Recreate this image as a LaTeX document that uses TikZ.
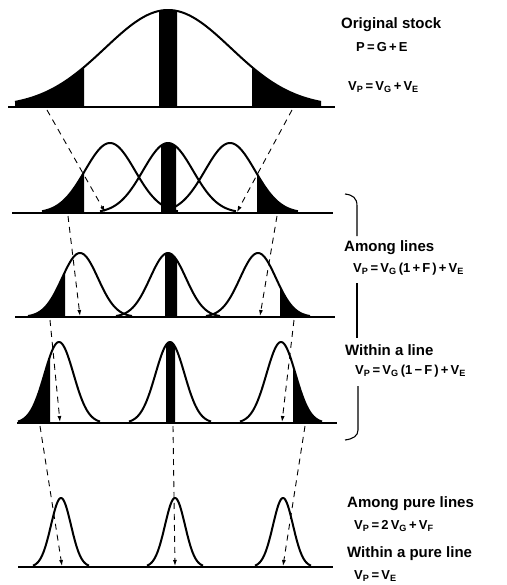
\documentclass[tikz,border=0pt]{standalone}
\usepackage{fontspec}
\setmainfont{Liberation Sans}
\usetikzlibrary{arrows.meta, positioning}

% bell curve: center, base, height, sigma, from, to
\newcommand{\bellcurve}[6]{plot[domain=#5:#6, samples=70, smooth] (\x,{#2-#3*exp(0-0.5*(((\x-#1)/#4)^2))})}
\newcommand{\bellto}[6]{-- plot[domain=#5:#6, samples=40, smooth] (\x,{#2-#3*exp(0-0.5*(((\x-#1)/#4)^2))})}
\newcommand{\sbs}[1]{\textsubscript{#1}}

\begin{document}
\begin{tikzpicture}[x=1pt, y=-1pt,
    curve/.style={line width=2pt, line join=round},
    baseln/.style={line width=2.4pt},
    sel/.style={dashed, dash pattern=on 6pt off 5pt, line width=0.9pt, -{Latex[length=6pt,width=4pt]}},
    brack/.style={line width=1.1pt},
    title/.style={anchor=west, inner sep=0pt, font=\bfseries\fontsize{15}{17}\selectfont},
    formula/.style={anchor=west, inner sep=0pt, font=\bfseries\fontsize{13}{15}\selectfont},
]
    \useasboundingbox (0,0) rectangle (506,585);

    % original stock
    \fill (15,107) \bellto{168}{107}{97}{63}{15}{84} -- (84,107) -- cycle;
    \fill (252,107) \bellto{168}{107}{97}{63}{252}{321} -- (321,107) -- cycle;
    \fill (159,107) \bellto{168}{107}{97}{63}{159}{177} -- (177,107) -- cycle;
    \draw[curve] \bellcurve{168}{107}{97}{63}{15}{321};
    \draw[baseln] (8,107) -- (335,107);

    % first selection
    \fill (42,213) \bellto{110}{213}{70}{25}{42}{84} -- (84,213) -- cycle;
    \fill (257,213) \bellto{230}{213}{70}{25}{257}{296} -- (296,213) -- cycle;
    \fill (161,213) \bellto{168}{213}{70}{25}{161}{176} -- (176,213) -- cycle;
    \foreach \c in {110,168,230}
        \draw[curve] \bellcurve{\c}{213}{70}{25}{\c-68}{\c+68};
    \draw[baseln] (12,213) -- (333,213);

    % among lines
    \fill (32,317) \bellto{80}{317}{64}{18}{32}{65} -- (65,317) -- cycle;
    \fill (280,317) \bellto{258}{317}{64}{18}{280}{313} -- (313,317) -- cycle;
    \fill (165,317) \bellto{168}{317}{64}{18}{165}{177} -- (177,317) -- cycle;
    \foreach \c in {80,168,258}
        \draw[curve] \bellcurve{\c}{317}{64}{18}{\c-52}{\c+52};
    \draw[baseln] (15,317) -- (335,317);

    % within a line
    \fill (20,423) \bellto{59}{423}{81}{14.5}{20}{50} -- (50,423) -- cycle;
    \fill (293,423) \bellto{281}{423}{81}{14.5}{293}{322} -- (322,423) -- cycle;
    \fill (166,423) \bellto{170}{423}{81}{14.5}{166}{175} -- (175,423) -- cycle;
    \foreach \c in {59,170,281}
        \draw[curve] \bellcurve{\c}{423}{81}{14.5}{\c-41}{\c+41};
    \draw[baseln] (17,423) -- (337,423);

    % pure lines
    \foreach \c in {61,175,283}
        \draw[curve] \bellcurve{\c}{567}{69}{10}{\c-28}{\c+28};
    \draw[baseln] (18,567) -- (333,567);

    % selection points
    \coordinate (s1a) at (47,110);
    \coordinate (s1b) at (292,110);
    \coordinate (e1a) at (105,212);
    \coordinate (e1b) at (237,212);
    \coordinate (s2a) at (68,216);
    \coordinate (s2b) at (277,216);
    \coordinate (e2a) at (80,316);
    \coordinate (e2b) at (260,316);
    \coordinate (s3a) at (50,320);
    \coordinate (s3b) at (294,320);
    \coordinate (e3a) at (60,422);
    \coordinate (e3b) at (282,422);
    \coordinate (s4a) at (40,426);
    \coordinate (s4b) at (173,426);
    \coordinate (s4c) at (305,426);
    \coordinate (e4a) at (62,566);
    \coordinate (e4b) at (175,566);
    \coordinate (e4c) at (283,566);

    \draw[sel] (s1a) -- (e1a);
    \draw[sel] (s1b) -- (e1b);
    \draw[sel] (s2a) -- (e2a);
    \draw[sel] (s2b) -- (e2b);
    \draw[sel] (s3a) -- (e3a);
    \draw[sel] (s3b) -- (e3b);
    \draw[sel] (s4a) -- (e4a);
    \draw[sel] (s4b) -- (e4b);
    \draw[sel] (s4c) -- (e4c);

    % labels
    \node[title] (orig) at (341,25) {Original stock};
    \node[formula] (eqpge) at (356,47) {P\,=\,G\,+\,E};
    \node[formula] (eqorig) at (348,87) {V\sbs{P}\,=\,V\sbs{G}\,+\,V\sbs{E}};
    \node[title] (among) at (344,248) {Among lines};
    \node[formula] (eqamong) at (353,269) {V\sbs{P}\,=\,V\sbs{G}\,(1\,+\,F\,)\,+\,V\sbs{E}};
    \node[title] (within) at (345,350) {Within a line};
    \node[formula] (eqwithin) at (355,371) {V\sbs{P}\,=\,V\sbs{G}\,(1\,−\,F\,)\,+\,V\sbs{E}};
    \node[title] (apure) at (347,504) {Among pure lines};
    \node[formula] (eqapure) at (354,526) {V\sbs{P}\,=\,2\,V\sbs{G}\,+\,V\sbs{F}};
    \node[title] (wpure) at (347,554) {Within a pure line};
    \node[formula] (eqwpure) at (354,576) {V\sbs{P}\,=\,V\sbs{E}};

    % bracket
    \coordinate (bt0) at (345,194);
    \coordinate (bt1) at (357,236);
    \coordinate (bm0) at (357,283);
    \coordinate (bm1) at (357,338);
    \coordinate (bb0) at (358,386);
    \coordinate (bb1) at (345,440);
    \draw[brack] (bt0) .. controls (353,195) and (357,198) .. (357,206) -- (bt1);
    \draw[brack] (bm0) -- (bm1);
    \draw[brack] (bb0) -- (358,430) .. controls (358,436) and (353,439) .. (bb1);
\end{tikzpicture}
\end{document}
